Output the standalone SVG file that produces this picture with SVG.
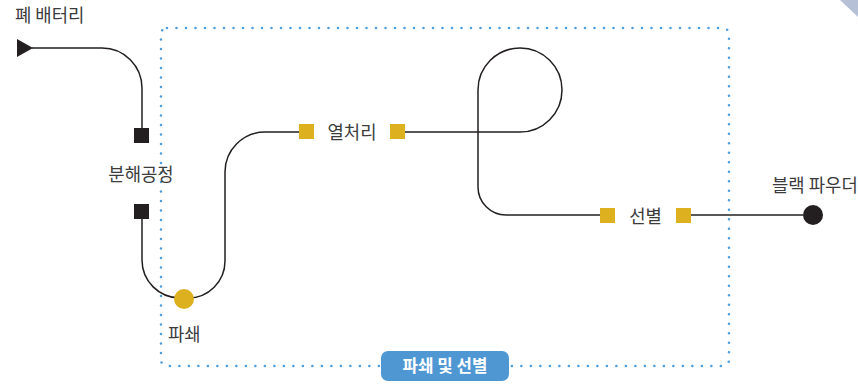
<svg xmlns="http://www.w3.org/2000/svg" width="858" height="384" viewBox="0 0 858 384">
<style>
.t{font-family:"Noto Sans CJK KR","Noto Sans",sans-serif;font-size:17.8px;fill:#3c3c3c}
.ln{fill:none;stroke:#231f20;stroke-width:1.5}
.bsq{fill:#231f20}
.ysq{fill:#dcb01e}
.box{fill:none;stroke:#4d9ddf;stroke-width:2.6;stroke-linecap:round;stroke-dasharray:0 9.5}
</style>
<rect width="858" height="384" fill="#ffffff"/>
<polygon points="840,0 858,0 858,17" fill="#b5bfd6"/>
<g id="group-box">
<rect class="box" x="161" y="28" width="568" height="338" rx="6"/>
<rect x="381" y="351" width="128" height="30" rx="7" fill="#4f97d3"/>
<text x="445" y="372" text-anchor="middle" style="font-family:'Noto Sans CJK KR','Noto Sans',sans-serif;font-size:16.8px;font-weight:bold;fill:#ffffff">파쇄 및 선별</text>
</g>
<g id="connectors">
<path class="ln" d="M32 48 L102 48 A40 40 0 0 1 142 88 L142 128"/>
<path class="ln" d="M142 219 L142 260 A38 38 0 0 0 180 298"/>
<path class="ln" d="M188 298 A37 37 0 0 0 225 261 L225 172 A40 40 0 0 1 265 132 L299 132"/>
<path class="ln" d="M405 132 L520 132 A42 42 0 1 0 478 90 L478 187 A28 28 0 0 0 506 215 L600 215"/>
<path class="ln" d="M691 215 L803 215"/>
</g>
<g id="node-battery">
<polygon points="17,39 17,57 33,48" fill="#231f20"/>
<text class="t" x="15" y="22">폐 배터리</text>
</g>
<g id="node-dismantle">
<rect class="bsq" x="134" y="128" width="15" height="15"/>
<rect class="bsq" x="134" y="204" width="15" height="15"/>
<text class="t" x="141" y="181" text-anchor="middle">분해공정</text>
</g>
<g id="node-crush">
<circle cx="184" cy="299" r="10" fill="#dcb01e"/>
<text class="t" x="168" y="341">파쇄</text>
</g>
<g id="node-heat">
<rect class="ysq" x="299" y="124" width="15" height="15"/>
<rect class="ysq" x="390" y="124" width="15" height="15"/>
<text class="t" x="352" y="139" text-anchor="middle">열처리</text>
</g>
<g id="node-sort">
<rect class="ysq" x="600" y="208" width="15" height="15"/>
<rect class="ysq" x="676" y="208" width="15" height="15"/>
<text class="t" x="645.5" y="223" text-anchor="middle">선별</text>
</g>
<g id="node-powder">
<circle cx="813" cy="215" r="10" fill="#231f20"/>
<text class="t" x="772" y="192">블랙 파우더</text>
</g>
</svg>
